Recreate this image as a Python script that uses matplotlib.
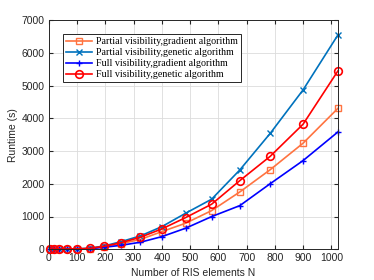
import numpy as np
import matplotlib.pyplot as plt

plt.rcParams['font.family'] = 'Liberation Sans'

N = [4, 16, 36, 64, 100, 144, 196, 256, 324, 400, 484, 576, 676, 784, 900, 1024]
partial_grad = [1, 2, 3, 5, 8, 20, 80, 170, 300, 538, 795, 1180, 1752, 2434, 3242, 4312]
partial_gen = [2, 3, 5, 8, 12, 30, 100, 233, 407, 691, 1100, 1529, 2425, 3547, 4872, 6560]
full_grad = [1, 1, 2, 4, 6, 15, 60, 120, 214, 385, 642, 997, 1333, 2006, 2710, 3590]
full_gen = [2, 3, 4, 7, 10, 25, 90, 200, 367, 621, 967, 1376, 2098, 2844, 3823, 5460]

fig = plt.figure(figsize=(3.74, 2.80), dpi=100)
ax = fig.add_axes([0.131, 0.110, 0.773, 0.8175])

ax.plot(N, partial_grad, color=(1, 0.45, 0.25), marker='s', markersize=4,
        markerfacecolor='none', linewidth=1.2, clip_on=False,
        label='Partial visibility,gradient algorithm')
ax.plot(N, partial_gen, color=(0, 0.447, 0.741), marker='x', markersize=4,
        linewidth=1.2, clip_on=False, label='Partial visibility,genetic algorithm')
ax.plot(N, full_grad, color='b', marker='+', markersize=5,
        linewidth=1.2, clip_on=False, label='Full visibility,gradient algorithm')
ax.plot(N, full_gen, color='r', marker='o', markersize=5.5,
        markerfacecolor='none', markeredgewidth=1.2, linewidth=1.2, clip_on=False,
        label='Full visibility,genetic algorithm')

ax.set_xlim(0, 1024)
ax.set_ylim(0, 7000)
ax.set_xticks(np.arange(0, 1001, 100))
ax.set_yticks(np.arange(0, 7001, 1000))
ax.tick_params(direction='in', top=True, right=True, labelsize=7.5, length=3,
               colors='#262626', pad=3)
ax.grid(True, color='#dcdcdc', linewidth=0.6)
ax.set_axisbelow(True)
for s in ax.spines.values():
    s.set_color('#262626')
    s.set_linewidth(0.7)

ax.set_xlabel('Number of RIS elements N', fontsize=7.5, color='#262626', labelpad=3)
ax.set_ylabel('Runtime (s)', fontsize=7.5, color='#262626', labelpad=3)

leg = ax.legend(loc='upper left', bbox_to_anchor=(0.05, 0.94),
                prop={'family': 'Liberation Serif', 'size': 7.2},
                fancybox=False, edgecolor='#262626', framealpha=1,
                borderpad=0.3, labelspacing=0.2, handlelength=2.6,
                handletextpad=0.4, borderaxespad=0)
leg.get_frame().set_linewidth(0.7)

fig.savefig('out.png', dpi=100)
